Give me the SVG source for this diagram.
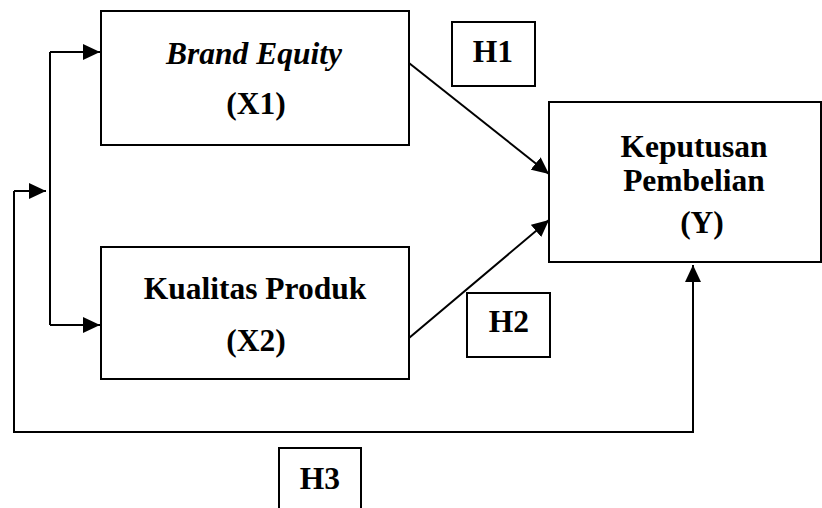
<svg xmlns="http://www.w3.org/2000/svg" width="822" height="508" viewBox="0 0 822 508">
  <style>
    .box { fill: #ffffff; stroke: #000000; stroke-width: 2; }
    .lbl { font-family: 'Liberation Serif', Tinos, 'Times New Roman', serif; font-weight: 700; font-size: 31.5px; fill: #000000; text-anchor: middle; }
    .it { font-style: italic; }
    .con { fill: none; stroke: #000000; stroke-width: 2; }
  </style>
  <defs>
    <marker id="arr" markerUnits="userSpaceOnUse" markerWidth="18" markerHeight="16" refX="17" refY="8" orient="auto">
      <path d="M0,0 L17,8 L0,16 z" fill="#000000"/>
    </marker>
  </defs>
  <rect width="822" height="508" fill="#ffffff"/>

  <g id="connectors">
    <path class="con" d="M50,52 V325"/>
    <path class="con" d="M50,52 H100" marker-end="url(#arr)"/>
    <path class="con" d="M50,325 H100" marker-end="url(#arr)"/>
    <path class="con" d="M14,191 H46" marker-end="url(#arr)"/>
    <path class="con" d="M14,191 V432 H693 V265" marker-end="url(#arr)"/>
    <path class="con" d="M409,63 L549,174" marker-end="url(#arr)"/>
    <path class="con" d="M409,338 L549,220" marker-end="url(#arr)"/>
  </g>

  <g id="x1">
    <rect class="box" x="101" y="11" width="308" height="134"/>
    <text class="lbl it" x="254" y="64">Brand Equity</text>
    <text class="lbl" x="256" y="114">(X1)</text>
  </g>

  <g id="x2">
    <rect class="box" x="101" y="247" width="308" height="132"/>
    <text class="lbl" x="255" y="299">Kualitas Produk</text>
    <text class="lbl" x="256" y="351">(X2)</text>
  </g>

  <g id="y">
    <rect class="box" x="549" y="102" width="272" height="160"/>
    <text class="lbl" x="694" y="157">Keputusan</text>
    <text class="lbl" x="694" y="191">Pembelian</text>
    <text class="lbl" x="702" y="233">(Y)</text>
  </g>

  <g id="h1">
    <rect class="box" x="452" y="22" width="83" height="64"/>
    <text class="lbl" x="493" y="62">H1</text>
  </g>

  <g id="h2">
    <rect class="box" x="467" y="293" width="83" height="64"/>
    <text class="lbl" x="509" y="332">H2</text>
  </g>

  <g id="h3">
    <rect class="box" x="279" y="448" width="82" height="70"/>
    <text class="lbl" x="320" y="489">H3</text>
  </g>
</svg>
